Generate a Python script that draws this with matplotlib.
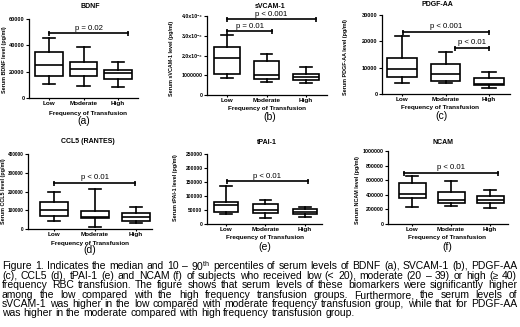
import matplotlib
matplotlib.use('Agg')
import matplotlib.pyplot as plt

plt.rcParams['font.family'] = ['Liberation Sans', 'DejaVu Sans']
plt.rcParams['mathtext.fontset'] = 'custom'
plt.rcParams['mathtext.rm'] = 'Liberation Sans'

W, H = 520, 327
fig = plt.figure(figsize=(W / 100, H / 100), dpi=100)

groups = ['Low', 'Moderate', 'High']

# ---- data (10th pct, Q1, median, Q3, 90th pct) ----
bdnf_p10 = [11000, 8900, 8400]
bdnf_q1 = [17000, 16800, 14200]
bdnf_med = [24700, 22400, 19100]
bdnf_q3 = [35100, 27500, 21600]
bdnf_p90 = [45800, 38900, 27200]

svcam_p10 = [880000, 640000, 590000]
svcam_q1 = [1060000, 810000, 760000]
svcam_med = [1890000, 1010000, 930000]
svcam_q3 = [2410000, 1740000, 1060000]
svcam_p90 = [3040000, 2060000, 1400000]

pdgf_p10 = [4300, 4000, 2400]
pdgf_q1 = [6300, 4900, 3400]
pdgf_med = [9400, 7600, 3700]
pdgf_q3 = [13500, 11300, 5900]
pdgf_p90 = [22000, 16100, 8500]

ccl5_p10 = [44000, 12000, 34000]
ccl5_q1 = [69000, 57000, 44000]
ccl5_med = [101000, 62000, 62000]
ccl5_q3 = [146000, 98000, 87000]
ccl5_p90 = [199000, 212000, 116000]

tpai_p10 = [36000, 20000, 26000]
tpai_q1 = [44000, 38000, 36000]
tpai_med = [68000, 50000, 42000]
tpai_q3 = [77000, 70000, 52000]
tpai_p90 = [136000, 86000, 62000]

ncam_p10 = [236000, 245000, 223000]
ncam_q1 = [350000, 291000, 282000]
ncam_med = [409000, 327000, 327000]
ncam_q3 = [564000, 441000, 386000]
ncam_p90 = [655000, 591000, 464000]

titles = ['BDNF', 'sVCAM-1', 'PDGF-AA', 'CCL5 (RANTES)', 'tPAI-1', 'NCAM']
ylabels = ['Serum BDNF level (pg/ml)', 'Serum sVCAM-1 level (pg/ml)',
           'Serum PDGF-AA level (pg/ml)', 'Serum CCL5 level (pg/ml)',
           'Serum tPAI-1 level (pg/ml)', 'Serum NCAM level (pg/ml)']
letters = ['(a)', '(b)', '(c)', '(d)', '(e)', '(f)']
xlabel = 'Frequency of Transfusion'

yticks_a = [0, 20000, 40000, 60000]
yticks_b = [0, 1000000, 2000000, 3000000, 4000000]
yticklabels_b = ['0', '1000000', '2.0x10⁰⁶', '3.0x10⁰⁶', '4.0x10⁰⁶']
yticks_c = [0, 10000, 20000, 30000]
yticks_d = [0, 100000, 200000, 300000, 400000]
yticks_e = [0, 50000, 100000, 150000, 200000, 250000]
yticks_f = [0, 200000, 400000, 600000, 800000, 1000000]

# significance brackets: (x_start, x_end, y, label)
brackets_a = [(1.0, 3.29, 49000, 'p = 0.02')]
brackets_b = [(1.0, 3.25, 3830000, 'p < 0.001'), (1.0, 2.14, 3240000, 'p = 0.01')]
brackets_c = [(1.02, 3.0, 23700, 'p < 0.001'), (2.22, 3.0, 17600, 'p < 0.01')]
brackets_d = [(1.0, 2.98, 247000, 'p < 0.01')]
brackets_e = [(1.03, 3.07, 154000, 'p < 0.01')]
brackets_f = [(0.8, 3.2, 705000, 'p < 0.01')]

caption_lines = [
    'Figure 1. Indicates the median and 10 – 90$^{\\mathrm{th}}$ percentiles of serum levels of BDNF (a), SVCAM-1 (b), PDGF-AA',
    '(c), CCL5 (d), tPAI-1 (e) and NCAM (f) of subjects who received low (< 20), moderate (20 – 39) or high (≥ 40)',
    'frequency RBC transfusion. The figure shows that serum levels of these biomarkers were significantly higher',
    'among the low compared with the high frequency transfusion groups. Furthermore, the serum levels of',
    'sVCAM-1 was higher in the low compared with moderate frequency transfusion group, while that for PDGF-AA',
    'was higher in the moderate compared with high frequency transfusion group.',
]

panels = [
    dict(data=(bdnf_p10, bdnf_q1, bdnf_med, bdnf_q3, bdnf_p90), yt=yticks_a, ytl=None,
         br=brackets_a, rect=(29, 138, 19, 98), xlim=(0.42, 3.58), w=0.8, ys=4.0,
         title=(90, 7), xl=(88, 113), let=(84, 121), yl=(5, 60)),
    dict(data=(svcam_p10, svcam_q1, svcam_med, svcam_q3, svcam_p90), yt=yticks_b, ytl=yticklabels_b,
         br=brackets_b, rect=(207, 327, 16, 95), xlim=(0.49, 3.53), w=0.65, ys=3.7,
         title=(270, 6), xl=(267, 109), let=(270, 117), yl=(171, 58)),
    dict(data=(pdgf_p10, pdgf_q1, pdgf_med, pdgf_q3, pdgf_p90), yt=yticks_c, ytl=None,
         br=brackets_c, rect=(382, 510, 15, 94), xlim=(0.54, 3.48), w=0.68, ys=4.0,
         title=(437, 5), xl=(440, 108), let=(442, 116), yl=(346, 57)),
    dict(data=(ccl5_p10, ccl5_q1, ccl5_med, ccl5_q3, ccl5_p90), yt=yticks_d, ytl=None,
         br=brackets_d, rect=(28, 152, 154, 229), xlim=(0.37, 3.39), w=0.68, ys=3.4,
         title=(88, 141), xl=(90, 243), let=(90, 250), yl=(4, 191)),
    dict(data=(tpai_p10, tpai_q1, tpai_med, tpai_q3, tpai_p90), yt=yticks_e, ytl=None,
         br=brackets_e, rect=(207, 322, 154, 224), xlim=(0.52, 3.43), w=0.63, ys=3.6,
         title=(267, 142), xl=(265, 237), let=(265, 247), yl=(175, 188)),
    dict(data=(ncam_p10, ncam_q1, ncam_med, ncam_q3, ncam_p90), yt=yticks_f, ytl=None,
         br=brackets_f, rect=(388, 508, 151, 224), xlim=(0.38, 3.46), w=0.69, ys=3.8,
         title=(443, 142), xl=(447, 237), let=(447, 247), yl=(357, 190)),
]

LW = 1.2


def fx(x):
    return x / W


def fy(y):
    return 1 - y / H


for i, p in enumerate(panels):
    l, r, t, b = p['rect']
    ax = fig.add_axes([fx(l), fy(b), (r - l) / W, (b - t) / H])
    p10, q1, med, q3, p90 = p['data']
    stats = [dict(whislo=p10[k], q1=q1[k], med=med[k], q3=q3[k], whishi=p90[k], fliers=[])
             for k in range(len(groups))]
    ax.bxp(stats, positions=[1, 2, 3], widths=p['w'], showfliers=False, patch_artist=True,
           capwidths=p['w'] * 0.45,
           boxprops=dict(facecolor='white', edgecolor='black', linewidth=LW),
           whiskerprops=dict(color='black', linewidth=LW),
           capprops=dict(color='black', linewidth=LW),
           medianprops=dict(color='black', linewidth=LW))
    ax.set_xlim(*p['xlim'])
    ax.set_ylim(0, p['yt'][-1])
    ax.set_yticks(p['yt'])
    if p['ytl'] is not None:
        ax.set_yticklabels(p['ytl'])
    else:
        ax.set_yticklabels([str(v) for v in p['yt']])
    ax.set_xticks([1, 2, 3])
    ax.set_xticklabels(groups)
    for s in ['top', 'right']:
        ax.spines[s].set_visible(False)
    for s in ['left', 'bottom']:
        ax.spines[s].set_linewidth(0.9)
    ax.tick_params(axis='y', length=2, width=0.8, pad=1.2, labelsize=p['ys'])
    ax.tick_params(axis='x', length=1.5, width=0.8, pad=1.0, labelsize=4.6)
    for lab in ax.get_yticklabels() + ax.get_xticklabels():
        lab.set_fontweight('bold')
    ax.patch.set_alpha(0)
    for (x0, x1, yv, txt) in p['br']:
        ax.plot([x0, x1], [yv, yv], color='black', lw=LW, marker='|', markersize=3.6,
                markeredgewidth=LW, clip_on=False)
        ax.annotate(txt, xy=((x0 + x1) / 2, yv), xytext=(0, 3.4), textcoords='offset points',
                    ha='center', va='center', fontsize=5.6, annotation_clip=False)
    tx, ty = p['title']
    fig.text(fx(tx), fy(ty), titles[i], ha='center', va='center', fontsize=5, fontweight='bold')
    xx, xy = p['xl']
    fig.text(fx(xx), fy(xy), xlabel, ha='center', va='center', fontsize=4.6, fontweight='bold')
    lx, ly = p['let']
    fig.text(fx(lx), fy(ly), letters[i], ha='center', va='center', fontsize=7.5)
    yx, yy = p['yl']
    fig.text(fx(yx), fy(yy), ylabels[i], ha='center', va='center', rotation=90,
             fontsize=3.9, fontweight='bold')

# caption, justified; font size fitted so the densest line has normal spacing
renderer = fig.canvas.get_renderer()
cap_y = [266, 276, 285, 295, 304, 313]
X0, X1 = 2, 517


def text_w(s, fs):
    t = fig.text(0, 0, s, fontsize=fs)
    w = t.get_window_extent(renderer).width
    t.remove()
    return w


ref_fs = 10.0
ratios = []
for line in caption_lines[:-1]:
    ratios.append((X1 - X0) / text_w(line, ref_fs))
cap_fs = ref_fs * min(ratios) * 0.99

for li, line in enumerate(caption_lines):
    words = line.split(' ')
    widths = [text_w(wd, cap_fs) for wd in words]
    if li == len(caption_lines) - 1:
        gap = text_w('a b', cap_fs) - text_w('ab', cap_fs)
    else:
        gap = (X1 - X0 - sum(widths)) / (len(words) - 1)
    x = X0
    for wd, wdt in zip(words, widths):
        fig.text(fx(x), fy(cap_y[li]), wd, ha='left', va='center', fontsize=cap_fs)
        x += wdt + gap

fig.savefig('out.png', dpi=100)
